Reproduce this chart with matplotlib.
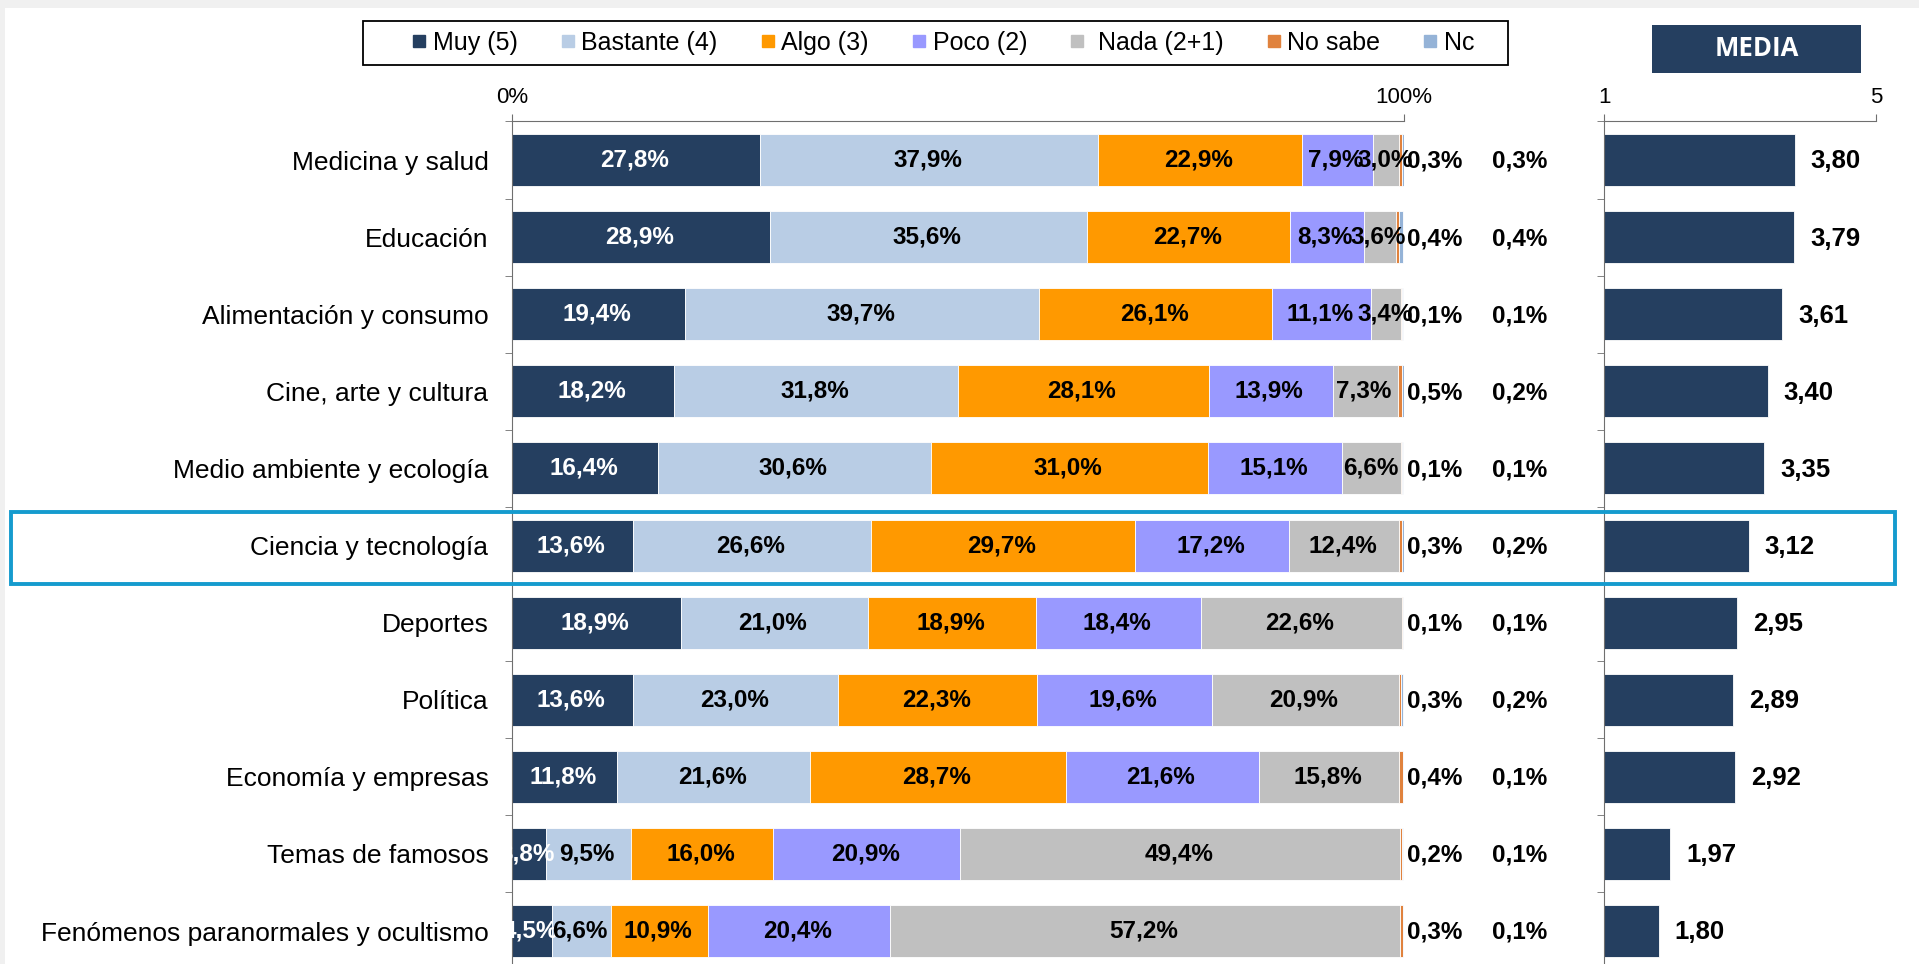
import matplotlib
matplotlib.use("Agg")
import matplotlib.pyplot as plt
from matplotlib.patches import Rectangle
from matplotlib.lines import Line2D
import numpy as np

plt.rcParams['font.family'] = ['Liberation Sans', 'DejaVu Sans']

categories = ['Medicina y salud', 'Educación', 'Alimentación y consumo',
              'Cine, arte y cultura', 'Medio ambiente y ecología',
              'Ciencia y tecnología', 'Deportes', 'Política',
              'Economía y empresas', 'Temas de famosos',
              'Fenómenos paranormales y ocultismo']
series_names = ['Muy (5)', 'Bastante (4)', 'Algo (3)', 'Poco (2)',
                ' Nada (2+1)', 'No sabe', 'Nc']
muy = [27.8, 28.9, 19.4, 18.2, 16.4, 13.6, 18.9, 13.6, 11.8, 3.8, 4.5]
bastante = [37.9, 35.6, 39.7, 31.8, 30.6, 26.6, 21.0, 23.0, 21.6, 9.5, 6.6]
algo = [22.9, 22.7, 26.1, 28.1, 31.0, 29.7, 18.9, 22.3, 28.7, 16.0, 10.9]
poco = [7.9, 8.3, 11.1, 13.9, 15.1, 17.2, 18.4, 19.6, 21.6, 20.9, 20.4]
nada = [3.0, 3.6, 3.4, 7.3, 6.6, 12.4, 22.6, 20.9, 15.8, 49.4, 57.2]
no_sabe = [0.3, 0.4, 0.1, 0.5, 0.1, 0.3, 0.1, 0.3, 0.4, 0.2, 0.3]
nc = [0.3, 0.4, 0.1, 0.2, 0.1, 0.2, 0.1, 0.2, 0.1, 0.1, 0.1]
media = [3.80, 3.79, 3.61, 3.40, 3.35, 3.12, 2.95, 2.89, 2.92, 1.97, 1.80]

colors = ['#253F60', '#B9CDE5', '#FF9900', '#9999FF', '#C0C0C0',
          '#E0823D', '#95B3D7']
navy = '#253F60'
spine_c = '#6f6f6f'


def fmt(v, d=1):
    return f"{v:.{d}f}".replace('.', ',')


fig = plt.figure(figsize=(19.19, 9.64), dpi=100)

# thin grey frame at the top/left edge of the screenshot
fig.add_artist(Rectangle((0, 1 - 8 / 964), 1, 8 / 964, transform=fig.transFigure,
                         color='#f0f0f0', lw=0, zorder=-5))
fig.add_artist(Rectangle((0, 0), 5 / 1919, 1, transform=fig.transFigure,
                         color='#f0f0f0', lw=0, zorder=-5))

ax = fig.add_axes([0.2668, -0.0058, 0.4648, 0.8798])
ax2 = fig.add_axes([0.8361, -0.0058, 0.1417, 0.8798])

y = np.arange(len(categories))
data = [muy, bastante, algo, poco, nada, no_sabe, nc]
left = np.zeros(len(categories))
for k, vals in enumerate(data):
    bars = ax.barh(y, vals, left=left, height=0.675, color=colors[k],
                   edgecolor='white', linewidth=0.6, label=series_names[k])
    if k < 5:
        ax.bar_label(bars, labels=[fmt(v) + '%' for v in vals], label_type='center',
                     fontsize=17.5, fontweight='bold', padding=-1,
                     color='white' if k == 0 else 'black')
    left += np.array(vals)

for i in y:
    ax.annotate(fmt(no_sabe[i]) + '%', xy=(100, i), xytext=(2.5, -1),
                textcoords='offset points', ha='left', va='center',
                fontsize=17.5, fontweight='bold', annotation_clip=False)
    ax.annotate(fmt(nc[i]) + '%', xy=(100, i), xytext=(83, -1),
                textcoords='offset points', ha='center', va='center',
                fontsize=17.5, fontweight='bold', annotation_clip=False)

ax.set_xlim(0, 100)
ax.set_ylim(len(categories) - 0.5, -0.5)
ax.set_yticks(y)
ax.set_yticklabels(categories, fontsize=19)
ax.set_yticks(np.arange(-0.5, len(categories), 1), minor=True)
ax.tick_params(axis='y', which='major', length=0, pad=17)
ax.tick_params(axis='y', which='minor', length=5, direction='out', color=spine_c)
ax.xaxis.tick_top()
ax.set_xticks([0, 100])
ax.set_xticklabels(['0%', '100%'], fontsize=16)
ax.tick_params(axis='x', length=5, direction='out', color=spine_c, pad=5)
for s in ['right', 'bottom']:
    ax.spines[s].set_visible(False)
for s in ['left', 'top']:
    ax.spines[s].set_color(spine_c)

# media panel
ax2.barh(y, np.array(media) - 1, left=1, height=0.675, color=navy,
         edgecolor='white', linewidth=0.6)
for i in y:
    ax2.annotate(fmt(media[i], 2), xy=(media[i], i), xytext=(11.5, -1),
                 textcoords='offset points', ha='left', va='center',
                 fontsize=18.5, fontweight='bold', annotation_clip=False)
ax2.set_xlim(1, 5)
ax2.set_ylim(len(categories) - 0.5, -0.5)
ax2.set_yticks([])
ax2.set_yticks(np.arange(-0.5, len(categories), 1), minor=True)
ax2.tick_params(axis='y', which='minor', length=5, direction='out', color=spine_c)
ax2.xaxis.tick_top()
ax2.set_xticks([1, 5])
ax2.set_xticklabels(['1', '5'], fontsize=16)
ax2.tick_params(axis='x', length=5, direction='out', color=spine_c, pad=5)
for s in ['right', 'bottom']:
    ax2.spines[s].set_visible(False)
for s in ['left', 'top']:
    ax2.spines[s].set_color(spine_c)

# MEDIA header
fig.add_artist(Rectangle((0.8609, 0.9246), 0.1089, 0.0495, transform=fig.transFigure,
                         color=navy, lw=0))
fig.text(0.9153, 0.9494, 'MEDIA', color='white', fontsize=18.5, fontweight='bold',
         family='Open Sans', ha='center', va='center')

# highlight box around "Ciencia y tecnología"
fig.add_artist(Rectangle((0.0057, 0.3942), 0.9818, 0.0747, transform=fig.transFigure,
                         fill=False, edgecolor='#159BCE', lw=2.8, zorder=10))

# legend: frame drawn separately so the side padding matches
fig.add_artist(Rectangle((363 / 1919, 1 - 65 / 964), 1145 / 1919, 44 / 964,
                         transform=fig.transFigure, fill=False,
                         edgecolor='black', lw=1.3))
handles = [Line2D([], [], marker='s', linestyle='none', markersize=8.6,
                  markerfacecolor=c, markeredgecolor=c) for c in colors]
leg = fig.legend(handles, series_names, loc='center', bbox_to_anchor=(0.4911, 0.9554),
                 ncol=7, fontsize=18, frameon=False, handlelength=0.7,
                 handletextpad=0.2, columnspacing=1.65, borderpad=0.4)

fig.savefig('out.png', dpi=100)
